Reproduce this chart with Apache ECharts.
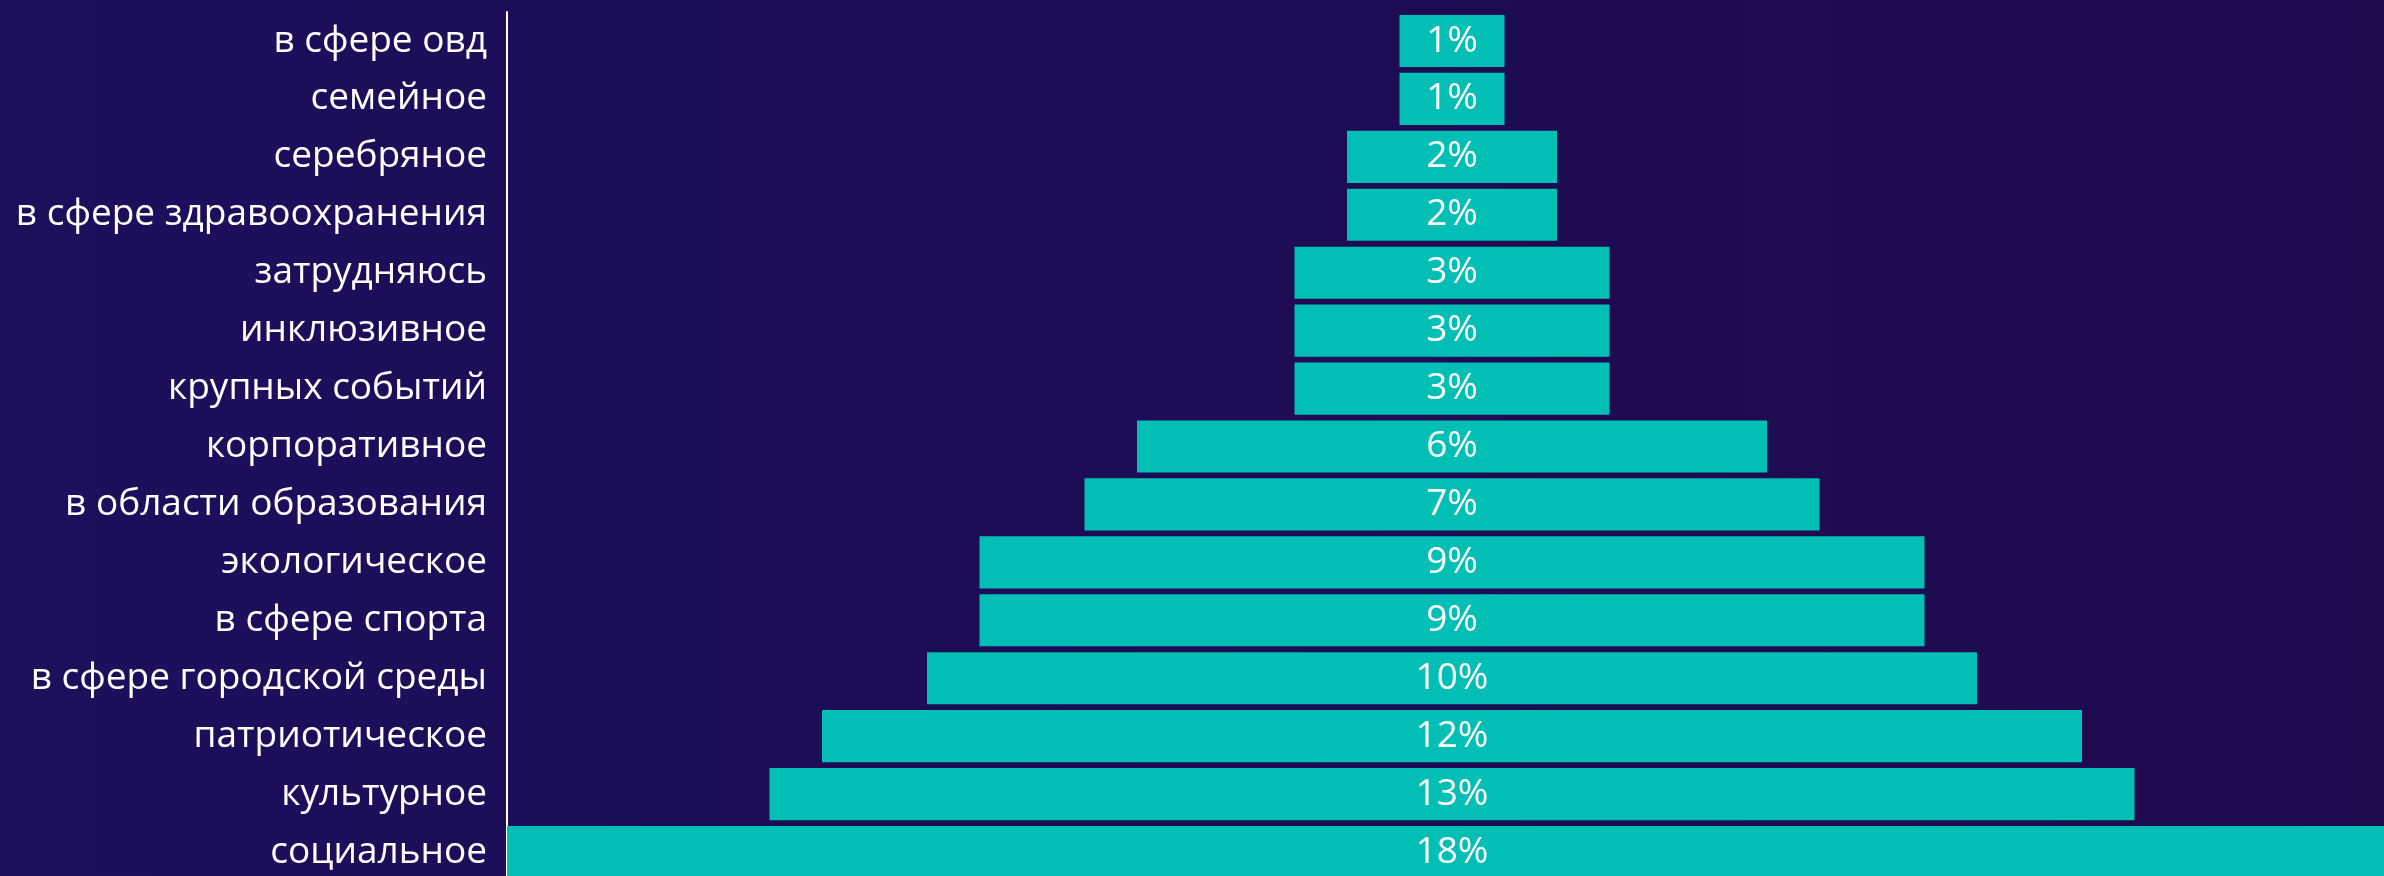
<!DOCTYPE html>
<html>
<head>
<meta charset="utf-8">
<script src="https://cdn.jsdelivr.net/npm/echarts@6/dist/echarts.min.js"></script>
<style>
  html, body { margin: 0; padding: 0; width: 2384px; height: 876px; overflow: hidden; background: #1e0b52; }
  #chart { width: 2397px; height: 881px; }
</style>
</head>
<body>
<div id="chart"></div>
<script>
const categories = [
  'в сфере овд', 'семейное', 'серебряное', 'в сфере здравоохранения',
  'затрудняюсь', 'инклюзивное', 'крупных событий', 'корпоративное',
  'в области образования', 'экологическое', 'в сфере спорта',
  'в сфере городской среды', 'патриотическое', 'культурное', 'социальное'
];
const values = [1, 1, 2, 2, 3, 3, 3, 6, 7, 9, 9, 10, 12, 13, 18];
const maxValue = 18;

const offsets = values.map(v => (maxValue - v) / 2);

const chart = echarts.init(document.getElementById('chart'));
chart.setOption({
  backgroundColor: {
    type: 'linear', x: 0, y: 0, x2: 1, y2: 0,
    colorStops: [
      { offset: 0, color: '#1c0f5c' },
      { offset: 1, color: '#1f0a4e' }
    ]
  },
  animation: false,
  grid: { left: 507, top: 12, right: 0, bottom: 0, containLabel: false },
  xAxis: {
    type: 'value', min: 0, max: maxValue, show: false
  },
  yAxis: {
    type: 'category',
    data: categories,
    inverse: true,
    axisLine: { show: true, lineStyle: { color: '#ffffff', width: 2 } },
    axisTick: { show: false },
    axisLabel: {
      color: '#ffffff', fontSize: 37, fontFamily: 'Open Sans', margin: 20
    }
  },
  series: [
    {
      type: 'bar', stack: 'a', data: offsets,
      itemStyle: { color: 'transparent' },
      barCategoryGap: '10%', silent: true
    },
    {
      type: 'bar', stack: 'a', data: values,
      itemStyle: { color: '#02bfb5' },
      barCategoryGap: '10%',
      label: {
        show: true, position: 'inside', formatter: '{c}%',
        color: '#ffffff', fontSize: 37, fontFamily: 'Open Sans'
      }
    }
  ]
});
</script>
</body>
</html>
